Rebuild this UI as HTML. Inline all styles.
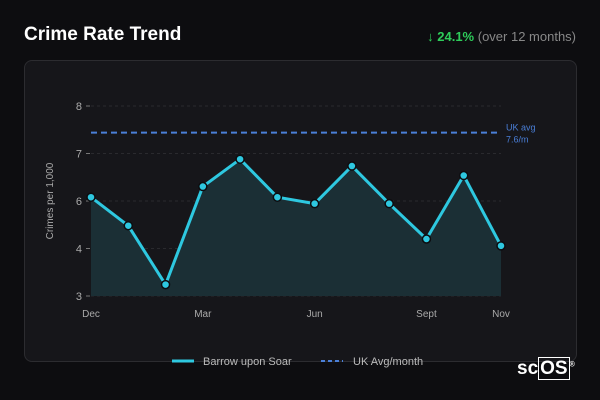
<!DOCTYPE html>
<html><head><meta charset="utf-8"><style>
body{margin:0;width:600px;height:400px;background:#0d0d10;font-family:"Liberation Sans",sans-serif;overflow:hidden;position:relative}
.t{position:absolute;left:24px;top:24px;color:#fff;font-weight:bold;font-size:19px}
.ch{position:absolute;right:24px;top:29px;font-size:13px;color:#888}
.ch b{color:#2ecc5a}
.card{position:absolute;left:24px;top:60px;width:551px;height:300px;border:1px solid #2c2c30;border-radius:8px;background:#16161a}
</style></head><body>
<div class="t">Crime Rate Trend</div>
<div class="ch"><b>↓ 24.1%</b> (over 12 months)</div>
<div class="card"></div>
<svg id="s" width="600" height="400" style="position:absolute;left:0;top:0"></svg>
<div style="position:absolute;left:517px;top:358px;color:#fff;font-weight:bold;font-size:19px">sc<span style="border:1px solid #fff;padding:0 1px">OS</span><sup style="font-size:7px">®</sup></div>
<script>
const months=["Dec","Jan","Feb","Mar","Apr","May","Jun","Jul","Aug","Sept","Oct","Nov"];
const values=[5.6,4.85,3.3,5.88,6.6,5.6,5.43,6.42,5.43,4.5,6.17,4.32];
const tickVals=[3,4.25,5.5,6.75,8];
const tickLabels=["3","4","6","7","8"];
const xLabelIdx=[0,3,6,9,11];
const ukAvg=7.3;
const s=document.getElementById('s');const NS="http://www.w3.org/2000/svg";
const x=i=>91+i*(501-91)/(months.length-1);
const y=v=>296-(v-3)*38;
function el(t,a,txt){const e=document.createElementNS(NS,t);for(const k in a)e.setAttribute(k,a[k]);if(txt!=null)e.textContent=txt;s.appendChild(e);return e;}
tickVals.forEach((v,i)=>{
const g=el('line',{x1:91,x2:501,y1:y(v),y2:y(v),stroke:'#2a2a2e','stroke-dasharray':'3 3'});

el('line',{x1:86,x2:90,y1:y(v),y2:y(v),stroke:'#777'});
const t=el('text',{x:82,y:y(v)+4,'text-anchor':'end',fill:'#aaa','font-size':11},tickLabels[i]);

});
xLabelIdx.forEach(i=>{const t=el('text',{x:x(i),y:317,'text-anchor':'middle',fill:'#aaa','font-size':10},months[i]);
});
const yt=el('text',{transform:'translate(53,201) rotate(-90)','text-anchor':'middle',fill:'#aaa','font-size':10},'Crimes per 1,000');

let pts=values.map((v,i)=>x(i)+','+y(v)).join(' ');
const ar=el('polygon',{points:x(0)+','+y(3)+' '+pts+' '+x(values.length-1)+','+y(3),fill:'#1b2f35'});

const av=el('line',{x1:91,x2:501,y1:y(ukAvg),y2:y(ukAvg),stroke:'#4a7fd8','stroke-width':2,'stroke-dasharray':'6 4'});

el('text',{x:506,y:y(ukAvg)-2,fill:'#4a7fd8','font-size':9},'UK avg');
el('text',{x:506,y:y(ukAvg)+10,fill:'#4a7fd8','font-size':9},(7.6).toFixed(1)+'/m');
const ln=el('polyline',{points:pts,fill:'none',stroke:'#2ec8e0','stroke-width':3,'stroke-linejoin':'round'});

values.forEach((v,i)=>{const c=el('circle',{cx:x(i),cy:y(v),r:4,fill:'#2ec8e0',stroke:'#0d0d10','stroke-width':1.5});
});
el('line',{x1:172,x2:194,y1:361,y2:361,stroke:'#2ec8e0','stroke-width':3});
const l1=el('text',{x:203,y:365,fill:'#bbb','font-size':11},'Barrow upon Soar');

el('line',{x1:321,x2:343,y1:361,y2:361,stroke:'#4a7fd8','stroke-width':2,'stroke-dasharray':'4 3'});
const l2=el('text',{x:353,y:365,fill:'#bbb','font-size':11},'UK Avg/month');

</script>
</body></html>
